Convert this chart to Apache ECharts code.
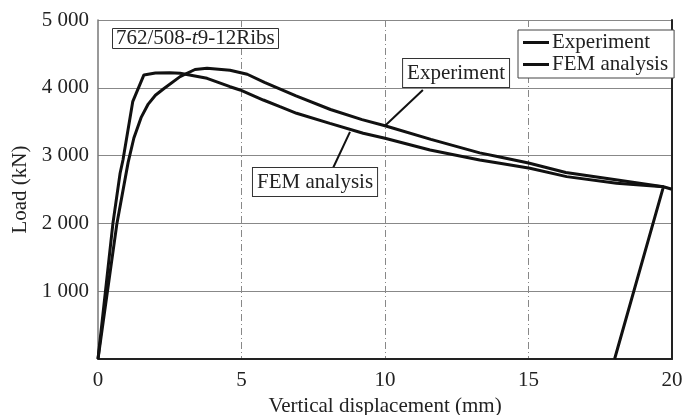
<!DOCTYPE html>
<html>
<head>
<meta charset="utf-8">
<script src="https://cdn.jsdelivr.net/npm/echarts@6/dist/echarts.min.js"></script>
<style>
  html, body { margin: 0; padding: 0; background: #fff; }
  #chart { width: 684px; height: 415px; }
</style>
</head>
<body>
<div id="chart"></div>
<script>
// data
var expX = [0, 0.66, 1.05, 1.25, 1.5, 1.75, 2.0, 2.3, 2.86, 3.38, 3.8, 4.6, 5.2, 5.8, 6.9, 8.1, 9.2, 10, 11.6, 13.3, 14, 15, 16.3, 18.1, 19.7, 18.0];
var expY = [0, 2000, 2900, 3260, 3560, 3760, 3890, 3990, 4165, 4270, 4290, 4260, 4200, 4080, 3880, 3680, 3530, 3440, 3240, 3040, 2980, 2890, 2750, 2640, 2540, 0];

var femX = [0, 0.52, 0.77, 0.87, 1.21, 1.6, 2.0, 2.5, 2.86, 3.8, 4.6, 4.95, 5.76, 6.34, 6.92, 8.08, 9.24, 10, 11.57, 13.3, 14, 15.05, 16.33, 18.07, 19.7, 20];
var femY = [0, 2000, 2740, 2935, 3795, 4190, 4218, 4223, 4214, 4140, 4016, 3968, 3820, 3721, 3624, 3476, 3329, 3255, 3083, 2935, 2886, 2813, 2690, 2591, 2540, 2503];

var seriesNames = ['Experiment', 'FEM analysis'];
var xTicks = [0, 5, 10, 15, 20];
var yTicks = [0, 1000, 2000, 3000, 4000, 5000];

var serif = "'Liberation Serif', 'Times New Roman', serif";
var fs = 21;

function pairs(xs, ys){
    let out = [];
    for(let i = 0; i < xs.length; i++){
        out.push([xs[i], ys[i]]);
    }
    return out;
}

function thousands(v){
    if(v == 0) return '';
    let s = String(v);
    return s.slice(0, s.length - 3) + ' ' + s.slice(s.length - 3);
}

let chart = echarts.init(document.getElementById('chart'), null, {renderer: 'canvas'});

let opts = {
    animation: false,
    backgroundColor: '#fff',
    grid: { left: 98, right: 12, top: 20, bottom: 56, outerBoundsMode: 'none', containLabel: false },
    title: {
        left: 112, top: 28,
        padding: [0, 4, 0, 4],
        borderColor: '#333', borderWidth: 1,
        backgroundColor: '#fff',
        text: '{n|762/508-}{i|t}{n|9-12Ribs}',
        textStyle: {
            fontWeight: 'normal',
            rich: {
                n: { fontFamily: serif, fontSize: fs, fontWeight: 'normal', color: '#222' },
                i: { fontFamily: serif, fontSize: fs, fontWeight: 'normal', fontStyle: 'italic', color: '#222' }
            }
        }
    },
    legend: {
        data: seriesNames,
        orient: 'vertical',
        left: 518, top: 30,
        padding: [2, 6, 3, 5],
        itemGap: 1,
        itemWidth: 26, itemHeight: 3,
        icon: 'rect',
        borderColor: '#444', borderWidth: 1,
        backgroundColor: '#fff',
        textStyle: { fontFamily: serif, fontSize: fs, color: '#222', padding: [0, 0, 0, -2] }
    },
    xAxis: {
        type: 'value',
        min: xTicks[0], max: xTicks[xTicks.length - 1], interval: 5,
        name: 'Vertical displacement (mm)',
        nameLocation: 'middle', nameGap: 36,
        nameTextStyle: { fontFamily: serif, fontSize: fs, color: '#222' },
        axisLine: { lineStyle: { color: '#222', width: 2 } },
        axisTick: { show: false },
        axisLabel: { fontFamily: serif, fontSize: fs, color: '#222', margin: 11 },
        splitLine: { show: true, showMinLine: false, showMaxLine: false, lineStyle: { color: '#888', width: 1, type: [7, 3, 1, 3] } }
    },
    yAxis: [{
        type: 'value',
        min: yTicks[0], max: yTicks[yTicks.length - 1], interval: 1000,
        name: 'Load (kN)',
        nameLocation: 'middle', nameGap: 59,
        nameTextStyle: { fontFamily: serif, fontSize: fs, color: '#222' },
        axisLine: { show: true, lineStyle: { color: '#777', width: 1.5 } },
        axisTick: { show: false },
        axisLabel: { fontFamily: serif, fontSize: fs, color: '#222', margin: 9, formatter: thousands },
        splitLine: { show: true, showMinLine: false, lineStyle: { color: '#888', width: 1 } }
    }, {
        type: 'value', position: 'right',
        min: yTicks[0], max: yTicks[yTicks.length - 1], interval: 1000,
        axisLine: { show: true, lineStyle: { color: '#222', width: 2 } },
        axisTick: { show: false }, axisLabel: { show: false }, splitLine: { show: false }
    }],
    series: [{
        name: seriesNames[0],
        type: 'line',
        symbol: 'none',
        data: pairs(expX, expY),
        lineStyle: { color: '#111', width: 3 },
        itemStyle: { color: '#111' },
        z: 3
    }, {
        name: seriesNames[1],
        type: 'line',
        symbol: 'none',
        data: pairs(femX, femY),
        lineStyle: { color: '#111', width: 3 },
        itemStyle: { color: '#111' },
        z: 3
    }]
};
chart.setOption(opts);

// callout labels, placed in data coordinates: box corner, leader start, leader end
var notes = [
    { text: 'Experiment',   box: [10.63, 4425], from: [11.32, 3968], to: [10.0, 3440] },
    { text: 'FEM analysis', box: [5.40, 2817],  from: [8.19, 2817],  to: [8.78, 3350] }
];

let graphics = [];
for(let i = 0; i < notes.length; i++){
    let b = chart.convertToPixel({gridIndex: 0}, notes[i].box);
    let f = chart.convertToPixel({gridIndex: 0}, notes[i].from);
    let t = chart.convertToPixel({gridIndex: 0}, notes[i].to);
    graphics.push({
        type: 'line',
        shape: { x1: f[0], y1: f[1], x2: t[0], y2: t[1] },
        style: { stroke: '#111', lineWidth: 2 },
        z: 5
    });
    graphics.push({
        type: 'text',
        x: b[0], y: b[1],
        style: {
            text: notes[i].text,
            font: fs + 'px ' + serif,
            fill: '#222',
            backgroundColor: '#fff',
            borderColor: '#333', borderWidth: 1,
            padding: [4, 4, 3, 4]
        },
        z: 6
    });
}
chart.setOption({ graphic: graphics });
</script>
</body>
</html>
